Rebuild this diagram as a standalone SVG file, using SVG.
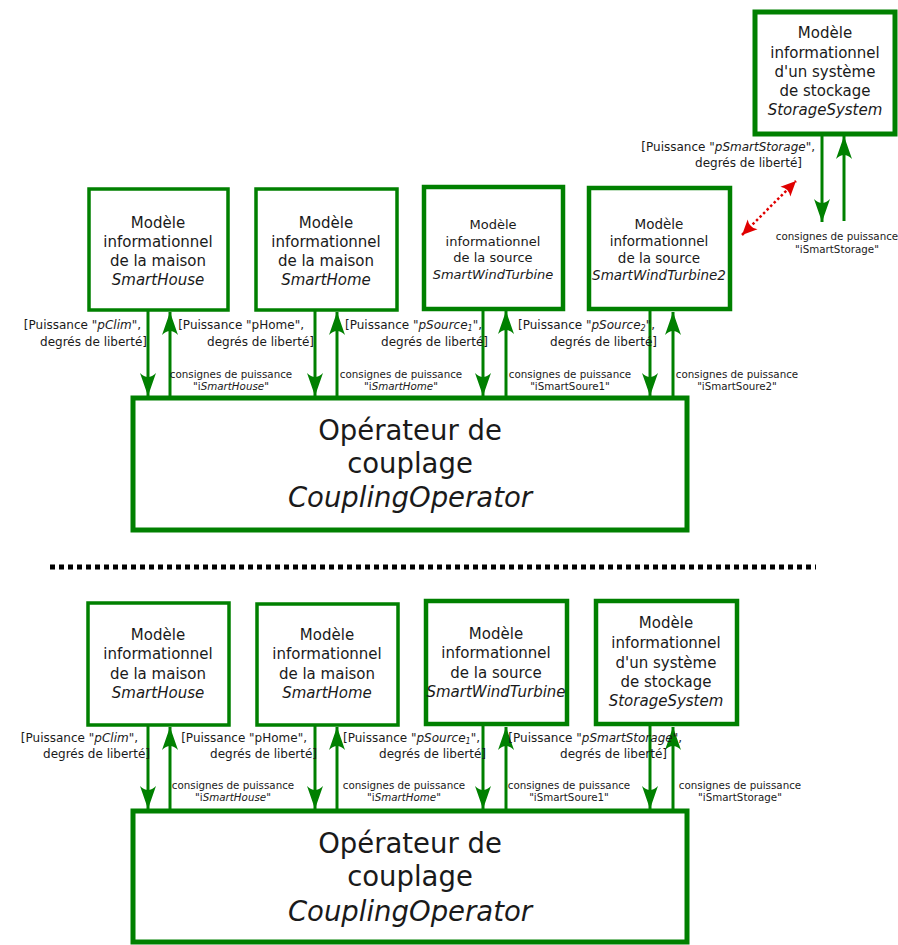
<svg xmlns="http://www.w3.org/2000/svg" width="898" height="945" viewBox="0 0 898 945">
<style>
text{font-family:"DejaVu Sans","Liberation Sans",sans-serif;fill:#1a1a1a}
.box{fill:#fff;stroke:#008000;stroke-width:3.5}
.boxb{fill:#fff;stroke:#008000;stroke-width:4.5}
.op{fill:#fff;stroke:#008000;stroke-width:5}
.n15{font-size:15px;text-anchor:middle}
.n13{font-size:13px;text-anchor:middle}
.n135{font-size:13.5px;text-anchor:middle}
.op26{font-size:27.5px;text-anchor:middle}
.lab{font-size:12px;text-anchor:end}
.con{font-size:10.3px;text-anchor:middle}
.it{font-style:italic}
.ar{stroke:#008000;stroke-width:3;fill:none;marker-end:url(#ah)}
</style>
<defs>
<marker id="ah" markerUnits="userSpaceOnUse" viewBox="-24 -10 26 20" refX="0" refY="0" markerWidth="26" markerHeight="20" orient="auto">
<path d="M0,0 L-23,-8 Q-15,0 -23,8 Z" fill="#008000"/>
</marker>
<marker id="rh" markerUnits="userSpaceOnUse" viewBox="-16 -9 18 18" refX="0" refY="0" markerWidth="18" markerHeight="18" orient="auto-start-reverse">
<path d="M0,0 L-15,-7 Q-10,0 -15,7 Z" fill="#e00000"/>
</marker>
</defs>

<g id="connectors">
<line class="ar" x1="822" y1="135" x2="822" y2="222"/>
<line class="ar" x1="844" y1="221" x2="844" y2="136"/>
<line x1="742" y1="235" x2="796" y2="181" stroke="#e00000" stroke-width="2.5" stroke-dasharray="2.5,2.5" marker-start="url(#rh)" marker-end="url(#rh)"/>
<line class="ar" x1="148" y1="311" x2="148" y2="396"/>
<line class="ar" x1="170" y1="396" x2="170" y2="312"/>
<line class="ar" x1="315" y1="311" x2="315" y2="396"/>
<line class="ar" x1="337" y1="396" x2="337" y2="312"/>
<line class="ar" x1="483" y1="310" x2="483" y2="396"/>
<line class="ar" x1="506" y1="396" x2="506" y2="311"/>
<line class="ar" x1="650" y1="311" x2="650" y2="396"/>
<line class="ar" x1="673" y1="396" x2="673" y2="312"/>
<line class="ar" x1="148" y1="726" x2="148" y2="809"/>
<line class="ar" x1="170" y1="809" x2="170" y2="727"/>
<line class="ar" x1="315" y1="726" x2="315" y2="809"/>
<line class="ar" x1="337" y1="809" x2="337" y2="727"/>
<line class="ar" x1="483" y1="726" x2="483" y2="809"/>
<line class="ar" x1="506" y1="809" x2="506" y2="727"/>
<line class="ar" x1="650" y1="726" x2="650" y2="809"/>
<line class="ar" x1="673" y1="809" x2="673" y2="727"/>
</g>

<g id="storage-top">
<rect class="op" x="755" y="12" width="140" height="122"/>
<text class="n15" x="825" y="38">Modèle</text>
<text class="n15" x="825" y="58">informationnel</text>
<text class="n15" x="825" y="77">d'un système</text>
<text class="n15" x="825" y="96">de stockage</text>
<text class="n15 it" x="825" y="115">StorageSystem</text>
</g>

<g id="smarthouse-top">
<rect class="box" x="89" y="189" width="139" height="121"/>
<text class="n15" x="158" y="228">Modèle</text>
<text class="n15" x="158" y="247">informationnel</text>
<text class="n15" x="158" y="266">de la maison</text>
<text class="n15 it" x="158" y="285">SmartHouse</text>
</g>

<g id="smarthome-top">
<rect class="box" x="256" y="189" width="141" height="121"/>
<text class="n15" x="326" y="228">Modèle</text>
<text class="n15" x="326" y="247">informationnel</text>
<text class="n15" x="326" y="266">de la maison</text>
<text class="n15 it" x="326" y="285">SmartHome</text>
</g>

<g id="windturbine-top">
<rect class="boxb" x="424" y="187" width="139" height="122"/>
<text class="n13" x="493" y="229">Modèle</text>
<text class="n13" x="493" y="246">informationnel</text>
<text class="n13" x="493" y="262">de la source</text>
<text class="n13 it" x="493" y="279">SmartWindTurbine</text>
</g>

<g id="windturbine2-top">
<rect class="boxb" x="589" y="188" width="141" height="121"/>
<text class="n135" x="659" y="229">Modèle</text>
<text class="n135" x="659" y="246">informationnel</text>
<text class="n135" x="659" y="263">de la source</text>
<text class="n135 it" x="659" y="280">SmartWindTurbine2</text>
</g>

<g id="coupling-top">
<rect class="op" x="133" y="398" width="554" height="132"/>
<text class="op26" x="410" y="440">Opérateur de</text>
<text class="op26" x="410" y="473">couplage</text>
<text class="op26 it" x="410" y="507">CouplingOperator</text>
</g>

<g id="labels-top">
<text class="lab" x="815" y="151">[Puissance "<tspan class="it">pSmartStorage</tspan>",</text>
<text class="lab" x="802" y="167">degrés de liberté]</text>
<text class="con" x="837" y="240">consignes de puissance</text>
<text class="con" x="837" y="253">"iSmartStorage"</text>

<text class="lab" x="141" y="329">[Puissance "<tspan class="it">pClim</tspan>",</text>
<text class="lab" x="147" y="346">degrés de liberté]</text>
<text class="lab" x="304" y="329">[Puissance "pHome",</text>
<text class="lab" x="314" y="346">degrés de liberté]</text>
<text class="lab" x="482" y="329">[Puissance "<tspan class="it">pSource<tspan font-size="8" dy="2">1</tspan></tspan><tspan dy="-2">",</tspan></text>
<text class="lab" x="488" y="346">degrés de liberté]</text>
<text class="lab" x="655" y="329">[Puissance "<tspan class="it">pSource<tspan font-size="8" dy="2">2</tspan></tspan><tspan dy="-2">",</tspan></text>
<text class="lab" x="657" y="346">degrés de liberté]</text>

<text class="con" x="231" y="378">consignes de puissance</text>
<text class="con" x="231" y="390">"i<tspan class="it">SmartHouse</tspan>"</text>
<text class="con" x="401" y="378">consignes de puissance</text>
<text class="con" x="401" y="390">"i<tspan class="it">SmartHome</tspan>"</text>
<text class="con" x="570" y="378">consignes de puissance</text>
<text class="con" x="570" y="390">"iSmartSoure1"</text>
<text class="con" x="737" y="378">consignes de puissance</text>
<text class="con" x="737" y="390">"iSmartSoure2"</text>
</g>

<g id="separator">
<line x1="50" y1="567" x2="816" y2="567" stroke="#000" stroke-width="5" stroke-dasharray="5,4"/>
</g>

<g id="smarthouse-bottom">
<rect class="box" x="88" y="603" width="141" height="122"/>
<text class="n15" x="158" y="640">Modèle</text>
<text class="n15" x="158" y="659">informationnel</text>
<text class="n15" x="158" y="679">de la maison</text>
<text class="n15 it" x="158" y="698">SmartHouse</text>
</g>

<g id="smarthome-bottom">
<rect class="box" x="257" y="604" width="141" height="121"/>
<text class="n15" x="327" y="640">Modèle</text>
<text class="n15" x="327" y="659">informationnel</text>
<text class="n15" x="327" y="679">de la maison</text>
<text class="n15 it" x="327" y="698">SmartHome</text>
</g>

<g id="windturbine-bottom">
<rect class="boxb" x="426" y="601" width="141" height="123"/>
<text class="n15" x="496" y="639">Modèle</text>
<text class="n15" x="496" y="658">informationnel</text>
<text class="n15" x="496" y="678">de la source</text>
<text class="n15 it" x="496" y="697">SmartWindTurbine</text>
</g>

<g id="storage-bottom">
<rect class="boxb" x="596" y="601" width="141" height="123"/>
<text class="n15" x="666" y="628">Modèle</text>
<text class="n15" x="666" y="648">informationnel</text>
<text class="n15" x="666" y="668">d'un système</text>
<text class="n15" x="666" y="687">de stockage</text>
<text class="n15 it" x="666" y="706">StorageSystem</text>
</g>

<g id="coupling-bottom">
<rect class="op" x="133" y="811" width="554" height="131"/>
<text class="op26" x="410" y="853">Opérateur de</text>
<text class="op26" x="410" y="886">couplage</text>
<text class="op26 it" x="410" y="921">CouplingOperator</text>
</g>

<g id="labels-bottom">
<text class="lab" x="138" y="742">[Puissance "<tspan class="it">pClim</tspan>",</text>
<text class="lab" x="150" y="758">degrés de liberté]</text>
<text class="lab" x="307" y="742">[Puissance "pHome",</text>
<text class="lab" x="317" y="758">degrés de liberté]</text>
<text class="lab" x="480" y="742">[Puissance "<tspan class="it">pSource<tspan font-size="8" dy="2">1</tspan></tspan><tspan dy="-2">",</tspan></text>
<text class="lab" x="486" y="758">degrés de liberté]</text>
<text class="lab" x="682" y="742">[Puissance "<tspan class="it">pSmartStorage</tspan>",</text>
<text class="lab" x="667" y="758">degrés de liberté]</text>

<text class="con" x="233" y="789">consignes de puissance</text>
<text class="con" x="233" y="801">"i<tspan class="it">SmartHouse</tspan>"</text>
<text class="con" x="404" y="789">consignes de puissance</text>
<text class="con" x="404" y="801">"i<tspan class="it">SmartHome</tspan>"</text>
<text class="con" x="569" y="789">consignes de puissance</text>
<text class="con" x="569" y="801">"iSmartSoure1"</text>
<text class="con" x="740" y="789">consignes de puissance</text>
<text class="con" x="740" y="801">"iSmartStorage"</text>
</g>
</svg>
